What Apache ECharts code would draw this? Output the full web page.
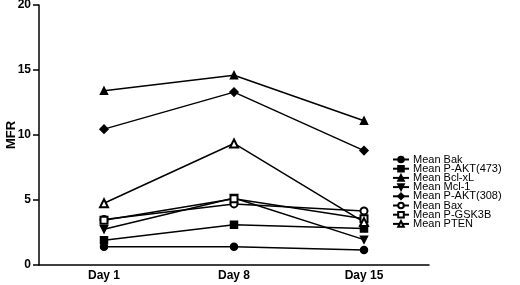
<!DOCTYPE html>
<html><head><meta charset="utf-8">
<script src="https://cdn.jsdelivr.net/npm/echarts@6/dist/echarts.min.js"></script>
<style>html,body{margin:0;padding:0;background:#fff}#c{width:520px;height:285px}</style>
</head><body><div id="c"></div>
<script>
const categories = ['Day 1', 'Day 8', 'Day 15'];
const seriesNames = ['Mean Bak', 'Mean P-AKT(473)', 'Mean Bcl-xL', 'Mean Mcl-1', 'Mean P-AKT(308)', 'Mean Bax', 'Mean P-GSK3B', 'Mean PTEN'];
const bak = [1.4, 1.4, 1.15];
const pakt473 = [1.9, 3.1, 2.8];
const bclxl = [13.4, 14.6, 11.1];
const mcl1 = [2.75, 5.15, 1.95];
const pakt308 = [10.45, 13.3, 8.8];
const bax = [3.5, 4.7, 4.15];
const pgsk3b = [3.45, 5.1, 3.55];
const pten = [4.75, 9.35, 3.3];
const yTicks = [0, 5, 10, 15, 20];

const values = [bak, pakt473, bclxl, mcl1, pakt308, bax, pgsk3b, pten];
const symbols = ['circle', 'rect', 'triangle', 'triangle', 'diamond', 'emptyCircle', 'emptyRect', 'emptyTriangle'];
const rotates = [0, 0, 0, 180, 0, 0, 0, 0];
const sizes = [7, 7, 7, 7, 8, 7, 7, 8];

const chart = echarts.init(document.getElementById('c'), null, {renderer: 'canvas'});
chart.setOption({
  animation: false,
  backgroundColor: '#fff',
  grid: {left: 39, right: 91, top: 5, bottom: 20, containLabel: false, outerBoundsMode: 'none'},
  xAxis: {
    type: 'category', data: categories, boundaryGap: true,
    axisLine: {lineStyle: {color: '#000', width: 1.5}},
    axisTick: {alignWithLabel: true, length: 5, lineStyle: {color: '#000', width: 1.5}},
    axisLabel: {color: '#000', fontFamily: 'Liberation Sans', fontWeight: 'bold', fontSize: 12, margin: 5}
  },
  yAxis: {
    type: 'value', min: yTicks[0], max: yTicks[yTicks.length - 1], interval: 5,
    name: 'MFR', nameLocation: 'middle', nameGap: 21, nameRotate: 90, nameMoveOverlap: false,
    nameTextStyle: {color: '#000', fontFamily: 'Liberation Sans', fontWeight: 'bold', fontSize: 13},
    splitLine: {show: false},
    axisLine: {show: true, lineStyle: {color: '#000', width: 1.5}},
    axisTick: {show: true, length: 6, lineStyle: {color: '#000', width: 1.5}},
    axisLabel: {color: '#000', fontFamily: 'Liberation Sans', fontWeight: 'bold', fontSize: 12, margin: 8}
  },
  legend: {
    orient: 'vertical', left: 387, top: 149,
    itemWidth: 16, itemHeight: 7, itemGap: -1.8,
    textStyle: {color: '#000', fontFamily: 'Liberation Sans', fontSize: 11, lineHeight: 9, padding: [0,0,0,-1]},
    data: seriesNames
  },
  series: seriesNames.map((n, i) => ({
    name: n, type: 'line', data: values[i],
    symbol: symbols[i], symbolSize: sizes[i], symbolRotate: rotates[i],
    lineStyle: {color: '#000', width: 1.5},
    itemStyle: {color: '#000', borderColor: '#000', borderWidth: 1.5},
    emphasis: {disabled: true}
  }))
});
</script></body></html>
